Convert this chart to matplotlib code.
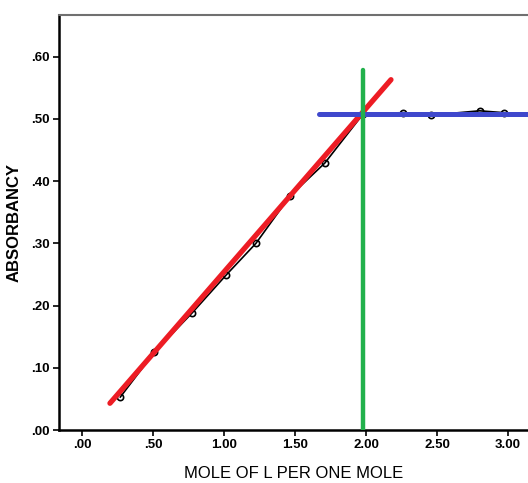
import matplotlib
matplotlib.use('Agg')
import matplotlib.pyplot as plt

# measured points (mole ratio vs absorbancy)
mole_ratio = [0.27, 0.51, 0.775, 1.015, 1.225, 1.465, 1.71, 1.98, 2.26, 2.46, 2.80, 2.97]
absorbancy = [0.053, 0.125, 0.188, 0.249, 0.300, 0.376, 0.429, 0.508, 0.510, 0.506, 0.513, 0.510]

# hand drawn guide lines
rise_x = [0.197, 2.176]
rise_y = [0.043, 0.563]
plateau_x = [1.67, 3.14]
plateau_y = [0.508, 0.508]
equiv_x = [1.98, 1.98]
equiv_y = [0.0, 0.579]

x_ticks = [0.0, 0.5, 1.0, 1.5, 2.0, 2.5, 3.0]
x_labels = ['.00', '.50', '1.00', '1.50', '2.00', '2.50', '3.00']
y_ticks = [0.0, 0.1, 0.2, 0.3, 0.4, 0.5, 0.6]
y_labels = ['.00', '.10', '.20', '.30', '.40', '.50', '.60']

plt.rcParams['font.family'] = ['Liberation Sans Narrow', 'Liberation Sans', 'DejaVu Sans']

fig = plt.figure(figsize=(5.28, 4.83), dpi=100)
ax = fig.add_axes([0.1117, 0.1097, 0.8883, 0.8593])

ax.plot(mole_ratio, absorbancy, color='black', lw=1.2, marker='o', ms=4.5,
        mfc='none', mec='black', mew=1.2, zorder=2)
ax.plot(rise_x, rise_y, color='#ed1c24', lw=3.8, solid_capstyle='round', zorder=3)
ax.plot(plateau_x, plateau_y, color='#3f48cc', lw=3.6, solid_capstyle='round', zorder=3)
ax.plot(equiv_x, equiv_y, color='#22b14c', lw=3.2, solid_capstyle='round', zorder=4)

ax.set_xlim(-0.162, 3.141)
ax.set_ylim(0, 0.667)
ax.set_xticks(x_ticks)
ax.set_xticklabels(x_labels, fontsize=9.5, fontweight='bold')
ax.set_yticks(y_ticks)
ax.set_yticklabels(y_labels, fontsize=9.5, fontweight='bold')
ax.tick_params(direction='out', length=4, width=1.2, color='black', pad=2.5)

ax.spines['left'].set_linewidth(1.8)
ax.spines['bottom'].set_linewidth(1.8)
ax.spines['top'].set_linewidth(1.5)
ax.spines['top'].set_color('#707070')
ax.spines['right'].set_visible(False)

ax.set_xlabel('MOLE OF L PER ONE MOLE', fontsize=12, family=['Liberation Sans', 'DejaVu Sans'],
              labelpad=11)
ax.set_ylabel('ABSORBANCY', fontsize=12, fontweight='bold', family=['Liberation Sans', 'DejaVu Sans'],
              labelpad=7)

fig.savefig('out.png', dpi=100)
